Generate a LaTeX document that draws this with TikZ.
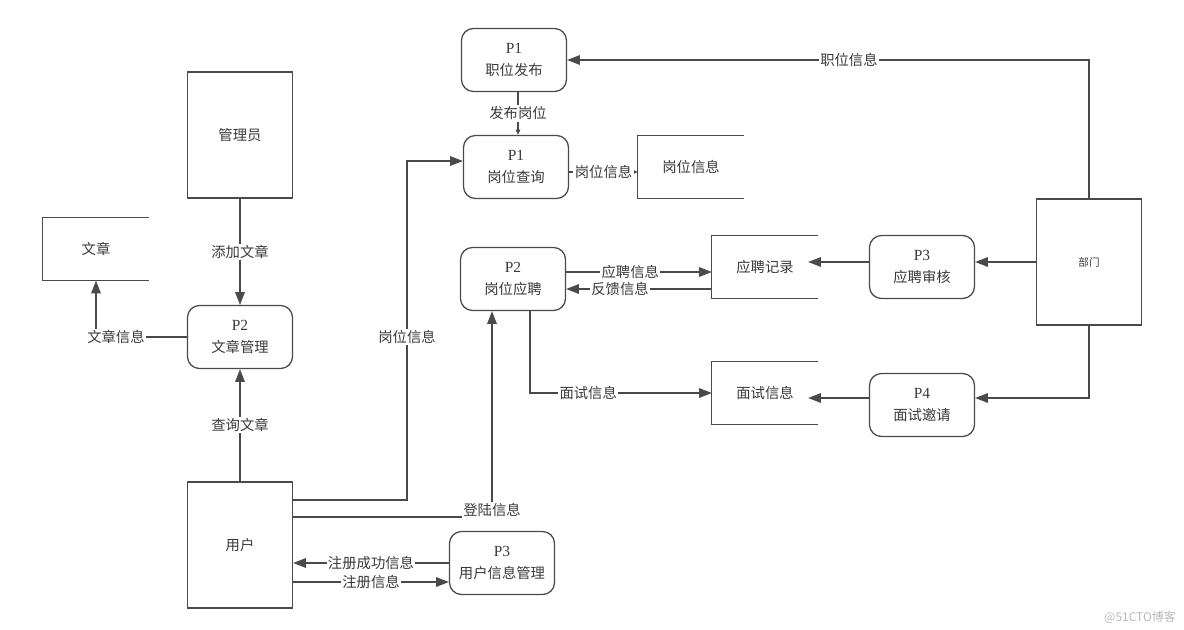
\documentclass[tikz,border=0pt]{standalone}
\usepackage{fontspec}
\setmainfont{Noto Sans CJK SC}
\newfontfamily\pfont{Liberation Serif}
\usetikzlibrary{calc, arrows.meta}

\definecolor{linegray}{HTML}{4A4A4A}
\definecolor{textgray}{HTML}{3A3A3A}

\tikzset{
	entity/.style={draw=linegray, minimum width=2.625cm, minimum height=3.15cm, inner sep=0pt},
	proc/.style={draw=linegray, rounded corners=0.3cm, minimum width=2.625cm, minimum height=1.575cm, inner sep=0pt, align=center, font=\fontsize{10.2}{16}\selectfont},
	store/.style={minimum width=2.625cm, minimum height=1.55cm, inner sep=0pt},
	flow/.style={-{Triangle[length=0.32cm, width=0.24cm]}},
	tip/.style={-{Triangle[length=0.13cm, width=0.11cm]}},
	lbl/.style={fill=white, inner sep=1pt, text=textgray},
}
\newcommand{\pid}[1]{{\pfont\fontsize{11}{16}\selectfont #1}}

\begin{document}
\begin{tikzpicture}[x=0.025cm, y=-0.025cm, line width=0.9pt, draw=linegray, text=textgray, font=\fontsize{10.2}{12}\selectfont]
\useasboundingbox (0, 0) rectangle (1184, 630);

% left
\node[entity] (gly) at (240, 135) {管理员};
\node[store] (wz) at (96, 249) {文章};
\node[proc] (p2wz) at (240, 337) {\pid{P2}\\文章管理};
\node[entity] (yh) at (240, 545) {用户};

% middle
\node[proc] (p1fb) at (514, 60) {\pid{P1}\\职位发布};
\node[proc] (p1cx) at (516, 167) {\pid{P1}\\岗位查询};
\node[store] (gwxx) at (691, 167) {岗位信息};
\node[proc] (p2yp) at (513, 279) {\pid{P2}\\岗位应聘};
\node[store] (ypjl) at (765, 267) {应聘记录};
\node[store] (mszx) at (765, 393) {面试信息};
\node[proc] (p3yh) at (502, 563) {\pid{P3}\\用户信息管理};

% right
\node[entity, font=\fontsize{7.5}{9}\selectfont] (bm) at (1089, 262) {部门};
\node[proc] (p3sh) at (922, 267) {\pid{P3}\\应聘审核};
\node[proc] (p4yq) at (922, 405) {\pid{P4}\\面试邀请};

% data stores, open on the right
\foreach \s in {wz, gwxx, ypjl, mszx}
\draw (\s.north east) -- (\s.north west) -- (\s.south west) -- (\s.south east);

% admin and articles
\draw[flow] (gly) -- node[lbl] {添加文章} (p2wz);
\draw[flow] (p2wz.west) -| node[lbl, pos=0.39] {文章信息} (wz.south);
\draw[flow] (yh) -- node[lbl] {查询文章} (p2wz);

% job query
\coordinate (x518) at (518, 0);
\draw[tip] (p1fb.south -| x518) -- node[lbl] {发布岗位} (p1cx.north -| x518);
\coordinate (a0) at ($(p1cx.east)+(0, 5)$);
\draw[tip] (a0) -- node[lbl] {岗位信息} (a0 -| gwxx.west);

\coordinate (bend1) at (407, 161);
\draw[flow] ($(yh.east)+(0, -45)$) -| node[lbl, pos=0.74] {岗位信息} (bend1) -- (bend1 -| p1cx.west);

% login
\coordinate (bend2) at ($(p2yp.south)+(-21, 0)$);
\draw[flow] ($(yh.east)+(0, -28)$) -| node[lbl, pos=0.5, yshift=0.18cm] {登陆信息} (bend2);

% application records
\coordinate (a1) at ($(p2yp.east)+(0, -7)$);
\draw[flow] (a1) -- node[lbl, pos=0.44] {应聘信息} (a1 -| ypjl.west);
\coordinate (a2) at ($(p2yp.east)+(0, 10)$);
\draw[flow] (a2 -| ypjl.west) -- node[lbl, pos=0.63] {反馈信息} (a2);
\draw[flow] ($(p2yp.south)+(17, 0)$) |- node[lbl, pos=0.66] {面试信息} (mszx.west);

% department
\coordinate (a3) at (bm.west);
\draw[flow] (a3) -- (a3 -| p3sh.east);
\draw[flow] (a3 -| p3sh.west) -- ($(a3 -| ypjl.east)+(-10, 0)$);
\coordinate (a4) at ($(p4yq.east)+(0, -7)$);
\draw[flow] (bm.south) |- (a4);
\draw[flow] (a4 -| p4yq.west) -- ($(a4 -| mszx.east)+(-10, 0)$);
\draw[flow] (bm.north) |- node[lbl, pos=0.73] {职位信息} (p1fb.east);

% registration
\draw[flow] (p3yh.west) -- node[lbl] {注册成功信息} (p3yh.west -| yh.east);
\coordinate (a5) at ($(p3yh.west)+(0, 19)$);
\draw[flow] (a5 -| yh.east) -- node[lbl] {注册信息} (a5);

\node[text=gray!55, font=\fontsize{8.5}{10}\selectfont] (mark) at (1140, 617) {@51CTO博客};
\end{tikzpicture}
\end{document}
